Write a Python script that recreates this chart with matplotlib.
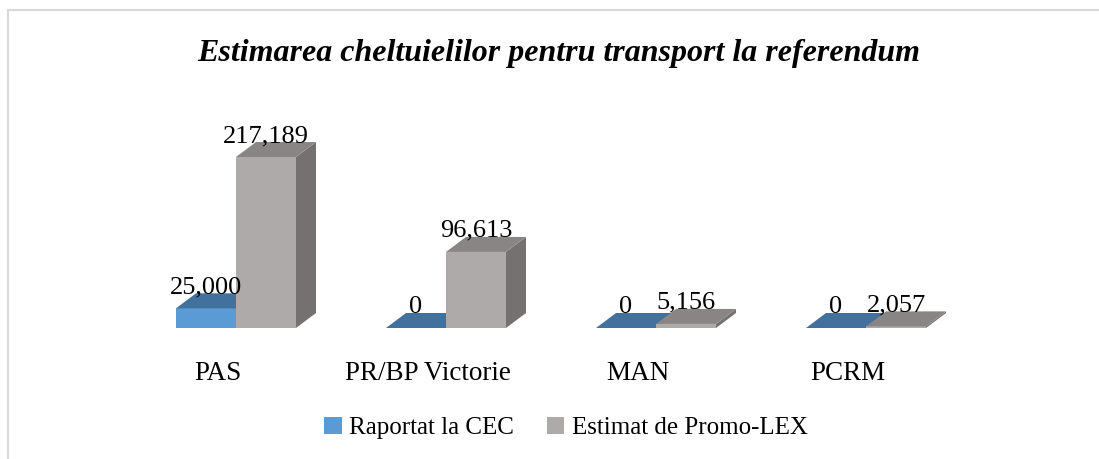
import matplotlib.pyplot as plt
from matplotlib.patches import Polygon, Patch
from matplotlib.lines import Line2D
import numpy as np

# data
parties = ['PAS', 'PR/BP Victorie', 'MAN', 'PCRM']
raportat = [25000, 0, 0, 0]
estimat = [217189, 96613, 5156, 2057]
series_names = ['Raportat la CEC', 'Estimat de Promo-LEX']

# colours (front, top, side)
blue = ('#5B9BD5', '#41719C', '#3A6690')
grey = ('#AEAAAA', '#898585', '#757171')

plt.rcParams['font.family'] = ['Liberation Serif', 'DejaVu Serif']

W, H = 1099, 459
fig = plt.figure(figsize=(W/100., H/100.), dpi=100)

# axes in pixel terms: category spacing 210 px, baseline at y=328
x_lo, x_hi = -0.9, 3.9
y_hi = 250000
ax_left, ax_w = 47, 1008
ax_bot, ax_h = 131, 196.8
ax = fig.add_axes([ax_left/W, ax_bot/H, ax_w/W, ax_h/H])
ax.set_xlim(x_lo, x_hi)
ax.set_ylim(0, y_hi)
ax.axis('off')

px_x = ax_w/(x_hi - x_lo)   # pixels per category unit
px_y = ax_h/y_hi            # pixels per value unit

bw = 60/px_x      # bar width
dx = 20/px_x      # depth offsets
dy = 15/px_y

def bar3d(x0, v, cols):
    x1 = x0 + bw
    front = Polygon([(x0, 0), (x1, 0), (x1, v), (x0, v)], closed=True,
                    facecolor=cols[0], lw=0, clip_on=False)
    side = Polygon([(x1, 0), (x1+dx, dy), (x1+dx, v+dy), (x1, v)], closed=True,
                   facecolor=cols[2], lw=0, clip_on=False)
    top = Polygon([(x0, v), (x1, v), (x1+dx, v+dy), (x0+dx, v+dy)], closed=True,
                  facecolor=cols[1], lw=0, clip_on=False)
    ax.add_patch(side)
    ax.add_patch(front)
    ax.add_patch(top)

for i in range(len(parties)):
    bar3d(i - bw, raportat[i], blue)
    bar3d(i, estimat[i], grey)
    ax.text(i - bw/2, raportat[i] + dy, '{:,}'.format(raportat[i]),
            ha='center', va='baseline', fontsize=19, color='black')
    ax.text(i + bw/2, estimat[i] + dy, '{:,}'.format(estimat[i]),
            ha='center', va='baseline', fontsize=19, color='black')
    ax.text(i - 18/px_x, -45/px_y, parties[i], ha='center', va='center',
            fontsize=19.5, color='black')

fig.text(559/W, 1 - 53/H, 'Estimarea cheltuielilor pentru transport la referendum',
         ha='center', va='center', fontsize=23, fontweight='bold', fontstyle='italic')

handles = [Patch(facecolor=blue[0], edgecolor='none'),
           Patch(facecolor=grey[0], edgecolor='none')]
fig.legend(handles, series_names, loc='center', bbox_to_anchor=(566/W, 31/H),
           ncol=2, frameon=False, fontsize=18, handlelength=0.7, handleheight=0.7,
           handletextpad=0.3, columnspacing=1.3)

# chart area border (top and left visible)
fig.add_artist(Line2D([7.5/W, 7.5/W], [0, 1 - 10/H], color='#D9D9D9', lw=1.5))
fig.add_artist(Line2D([7.5/W, 1], [1 - 10/H, 1 - 10/H], color='#D9D9D9', lw=1.5))

plt.savefig('out.png', dpi=100)
